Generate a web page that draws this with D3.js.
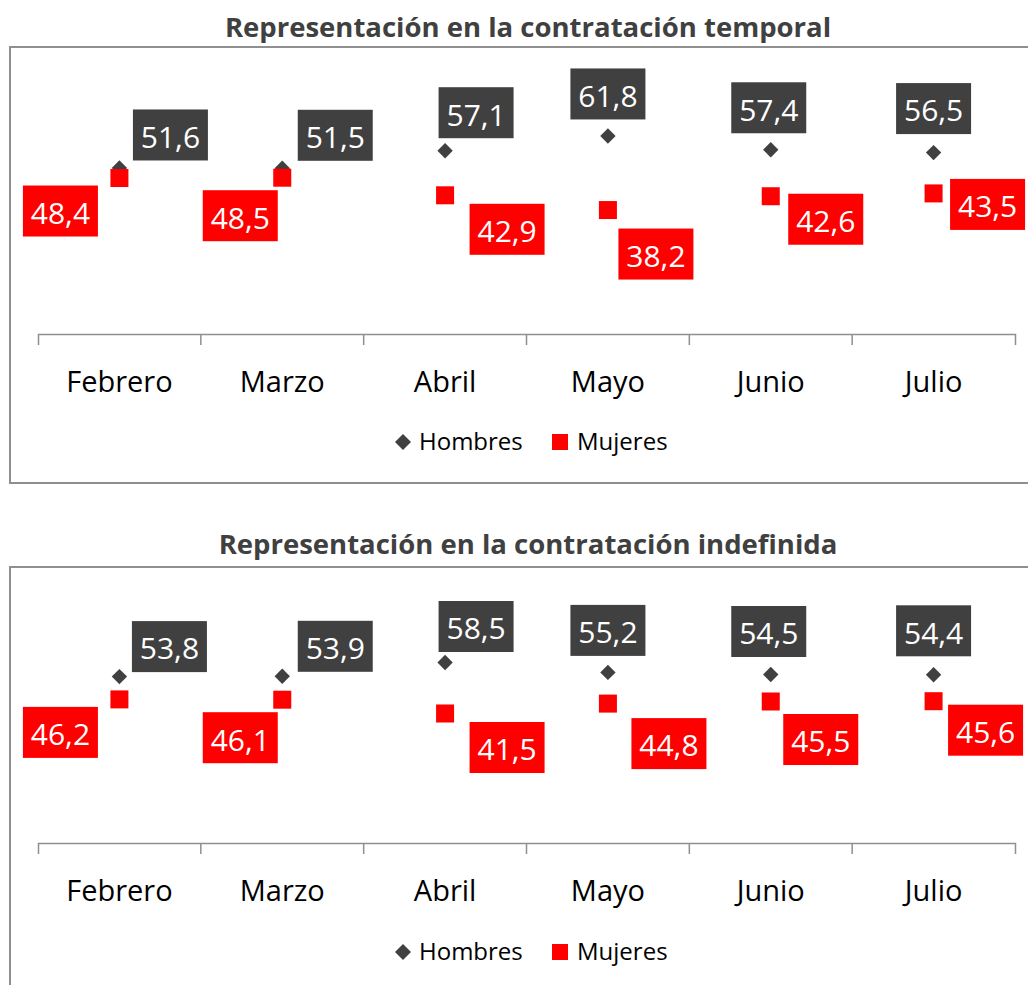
<!DOCTYPE html>
<html>
<head>
<meta charset="utf-8">
<script src="https://cdn.jsdelivr.net/npm/d3@7"></script>
<style>
  body { margin: 0; background: #fff; }
  svg { display: block; font-family: "Open Sans", "Noto Sans", sans-serif; }
</style>
</head>
<body>
<div id="container"></div>
<script>
// data
var months = ["Febrero", "Marzo", "Abril", "Mayo", "Junio", "Julio"];
var seriesNames = ["Hombres", "Mujeres"];
var titles = ["Representación en la contratación temporal", "Representación en la contratación indefinida"];
var temporalHombres = [51.6, 51.5, 57.1, 61.8, 57.4, 56.5];
var temporalMujeres = [48.4, 48.5, 42.9, 38.2, 42.6, 43.5];
var indefinidaHombres = [53.8, 53.9, 58.5, 55.2, 54.5, 54.4];
var indefinidaMujeres = [46.2, 46.1, 41.5, 44.8, 45.5, 45.6];

var colHombres = "#404040";
var colMujeres = "#ff0000";

// layout of each panel (label offsets were placed by hand in the original)
var panels = [
	{
		title: titles[0], hombres: temporalHombres, mujeres: temporalMujeres,
		titleY: 37, frameTop: 47, frameH: 436, axisY: 334, zeroY: 330, topY: 16, legendY: 442,
		offH: [[51, -33], [53, -33], [31, -38], [0, -42], [-2, -42], [0, -44]],
		offM: [[-59, 33], [-42, 38], [62, 34], [48, 44], [55, 23], [54, 11]]
	},
	{
		title: titles[1], hombres: indefinidaHombres, mujeres: indefinidaMujeres,
		titleY: 554, frameTop: 567, frameH: 440, axisY: 843, zeroY: 838, topY: 538, legendY: 952,
		offH: [[50, -30], [53, -30], [31, -36], [0, -42], [-2, -43], [0, -44]],
		offM: [[-59, 33], [-42, 38], [62, 34], [61, 40], [50, 38], [52, 29]]
	}
];

var w = 1028, h = 985;
var svg = d3.select("#container")
	.append("svg")
	.attr("width", w)
	.attr("height", h);

var x = d3.scaleBand()
	.domain(months)
	.range([38, 1015]);

var diamond = d3.symbol(d3.symbolSquare, 118);
var boxW = 75, boxH = 51;

panels.forEach(function(p) {
	var g = svg.append("g");

	var y = d3.scaleLinear()
		.domain([0, 100])
		.range([p.zeroY, p.topY]);

	// title
	g.append("text")
		.attr("x", 528)
		.attr("y", p.titleY)
		.attr("text-anchor", "middle")
		.attr("font-size", "27.5px")
		.attr("font-weight", "bold")
		.attr("fill", "#404040")
		.text(p.title);

	// chart frame, runs off the right edge like in the picture
	g.append("rect")
		.attr("x", 10)
		.attr("y", p.frameTop)
		.attr("width", 1040)
		.attr("height", p.frameH)
		.attr("fill", "none")
		.attr("stroke", "#8f8f8f")
		.attr("stroke-width", 2);

	// category axis
	var axis = g.append("g")
		.attr("transform", "translate(0," + p.axisY + ")")
		.call(d3.axisBottom(x).tickSizeInner(0).tickSizeOuter(11));
	axis.select(".domain").attr("stroke", "#8f8f8f").attr("stroke-width", 1.5);
	axis.selectAll(".tick text")
		.attr("y", 48)
		.attr("dy", "0.35em")
		.attr("font-size", "29px")
		.attr("font-family", "\"Open Sans\", sans-serif")
		.attr("fill", "#000");

	// boundary ticks between categories
	g.selectAll("line.sep")
		.data(months.slice(1))
		.enter()
		.append("line")
		.attr("class", "sep")
		.attr("x1", function(d) { return x(d); })
		.attr("x2", function(d) { return x(d); })
		.attr("y1", p.axisY)
		.attr("y2", p.axisY + 11)
		.attr("stroke", "#8f8f8f")
		.attr("stroke-width", 1.5);

	var cx = function(d, i) { return x(months[i]) + x.bandwidth() / 2; };

	// Hombres markers
	g.selectAll("path.hom")
		.data(p.hombres)
		.enter()
		.append("path")
		.attr("class", "hom")
		.attr("d", diamond)
		.attr("fill", colHombres)
		.attr("transform", function(d, i) {
			return "translate(" + cx(d, i) + "," + y(d) + ") rotate(45)";
		});

	// Mujeres markers
	g.selectAll("rect.muj")
		.data(p.mujeres)
		.enter()
		.append("rect")
		.attr("class", "muj")
		.attr("x", function(d, i) { return cx(d, i) - 9; })
		.attr("y", function(d) { return y(d) - 9; })
		.attr("width", 18)
		.attr("height", 18)
		.attr("fill", colMujeres);

	// data labels
	function labels(values, offs, color) {
		var lg = g.append("g")
			.selectAll("g")
			.data(values)
			.enter()
			.append("g")
			.attr("transform", function(d, i) {
				return "translate(" + (cx(d, i) + offs[i][0]) + "," + (y(d) + offs[i][1]) + ")";
			});
		lg.append("rect")
			.attr("x", -boxW / 2)
			.attr("y", -boxH / 2)
			.attr("width", boxW)
			.attr("height", boxH)
			.attr("fill", color);
		lg.append("text")
			.attr("text-anchor", "middle")
			.attr("dy", "0.36em")
			.attr("y", 2)
			.attr("font-size", "30px")
			.attr("fill", "#fff")
			.text(function(d) { return d3.format(".1f")(d).replace(".", ","); });
	}
	labels(p.hombres, p.offH, colHombres);
	labels(p.mujeres, p.offM, colMujeres);

	// legend
	var leg = g.append("g").attr("transform", "translate(0," + p.legendY + ")");
	leg.append("path")
		.attr("d", d3.symbol(d3.symbolSquare, 128))
		.attr("fill", colHombres)
		.attr("transform", "translate(403,0) rotate(45)");
	leg.append("text")
		.attr("x", 419)
		.attr("dy", "0.35em")
		.attr("font-size", "24px")
		.attr("fill", "#000")
		.text(seriesNames[0]);
	leg.append("rect")
		.attr("x", 552)
		.attr("y", -8)
		.attr("width", 16)
		.attr("height", 16)
		.attr("fill", colMujeres);
	leg.append("text")
		.attr("x", 577)
		.attr("dy", "0.35em")
		.attr("font-size", "24px")
		.attr("fill", "#000")
		.text(seriesNames[1]);
});
</script>
</body>
</html>
